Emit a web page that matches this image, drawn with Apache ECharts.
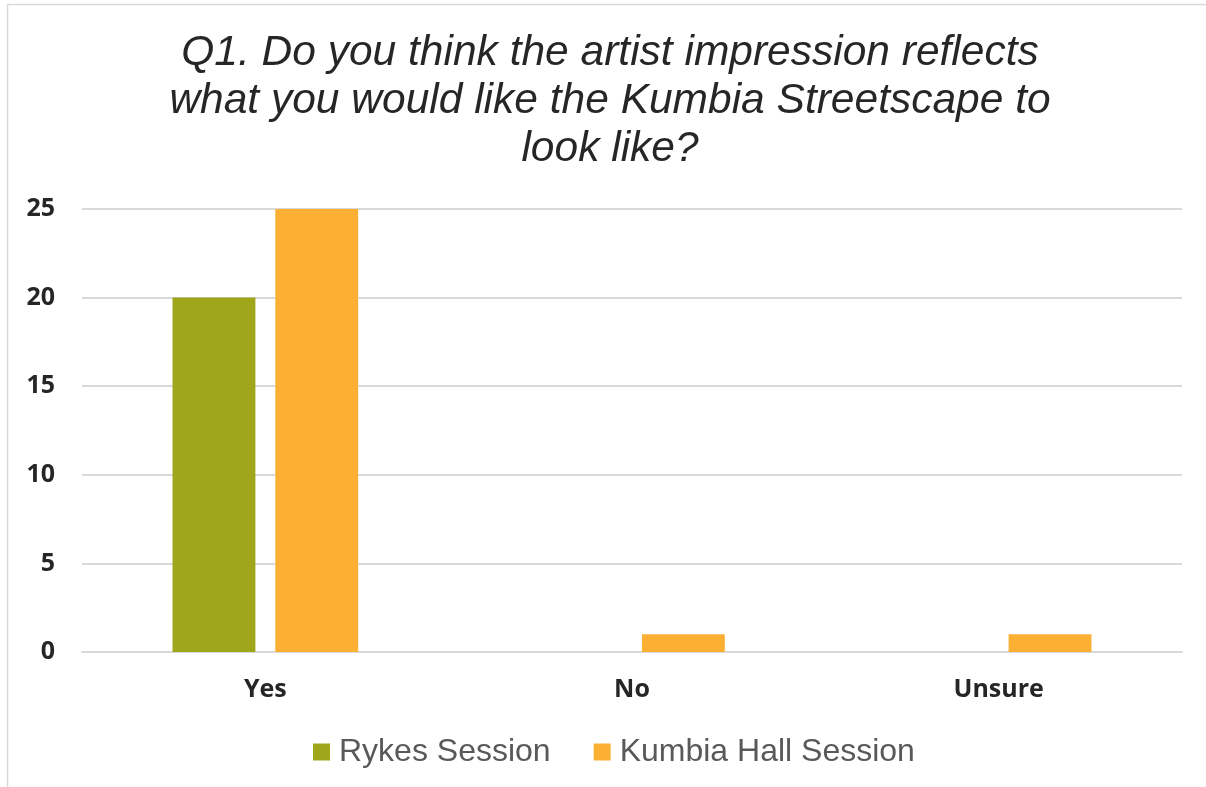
<!DOCTYPE html>
<html>
<head>
<meta charset="utf-8">
<script src="https://cdn.jsdelivr.net/npm/echarts@6/dist/echarts.min.js"></script>
<style>
  html, body { margin: 0; padding: 0; background: #ffffff; }
  #chart { width: 1206px; height: 787px; }
</style>
</head>
<body>
<div id="chart"></div>
<script>
// Survey answers per session
const categories = ['Yes', 'No', 'Unsure'];
const rykesSession = [20, 0, 0];
const kumbiaHallSession = [25, 1, 1];
const seriesNames = ['Rykes Session', 'Kumbia Hall Session'];
const yTicks = { min: 0, max: 25, interval: 5 };

const chart = echarts.init(document.getElementById('chart'));

chart.setOption({
  animation: false,
  backgroundColor: '#ffffff',
  title: {
    text: 'Q1. Do you think the artist impression reflects\nwhat you would like the Kumbia Streetscape to\nlook like?',
    left: 610,
    textAlign: 'center',
    top: 29,
    padding: 0,
    textStyle: {
      fontFamily: 'Liberation Sans, Arial, sans-serif',
      fontStyle: 'italic',
      fontWeight: 'normal',
      fontSize: 42.5,
      lineHeight: 48,
      color: '#262626'
    }
  },
  graphic: [{
    type: 'rect',
    silent: true,
    z: -10,
    shape: { x: 7.5, y: 4.5, width: 1260, height: 860 },
    style: { fill: 'none', stroke: '#d9d9d9', lineWidth: 1.5 }
  }],
  legend: {
    data: seriesNames,
    bottom: 19,
    left: 313,
    padding: 0,
    itemWidth: 17,
    itemHeight: 17,
    itemGap: 43,
    icon: 'rect',
    textStyle: {
      fontFamily: 'Liberation Sans, Arial, sans-serif',
      fontSize: 32,
      color: '#595959',
      padding: [0, 0, 0, 4]
    }
  },
  grid: {
    left: 82,
    right: 24,
    top: 209,
    bottom: 135,
    containLabel: false
  },
  xAxis: {
    type: 'category',
    data: categories,
    axisLine: { show: true, lineStyle: { color: '#d9d9d9', width: 2 } },
    axisTick: { show: false },
    axisLabel: {
      margin: 25,
      fontFamily: 'Open Sans, sans-serif',
      fontWeight: 'bold',
      fontSize: 25,
      color: '#262626'
    }
  },
  yAxis: {
    type: 'value',
    min: yTicks.min,
    max: yTicks.max,
    interval: yTicks.interval,
    axisLine: { show: false },
    axisTick: { show: false },
    splitLine: { lineStyle: { color: '#d9d9d9', width: 2 } },
    axisLabel: {
      margin: 27,
      fontFamily: 'Open Sans, sans-serif',
      fontWeight: 'bold',
      fontSize: 25,
      color: '#262626'
    }
  },
  series: [
    {
      name: seriesNames[0],
      type: 'bar',
      data: rykesSession,
      barWidth: '22.6%',
      barGap: '24%',
      itemStyle: { color: '#a0a61a' }
    },
    {
      name: seriesNames[1],
      type: 'bar',
      data: kumbiaHallSession,
      barWidth: '22.6%',
      barGap: '24%',
      itemStyle: { color: '#fbb034' }
    }
  ]
});
</script>
</body>
</html>
